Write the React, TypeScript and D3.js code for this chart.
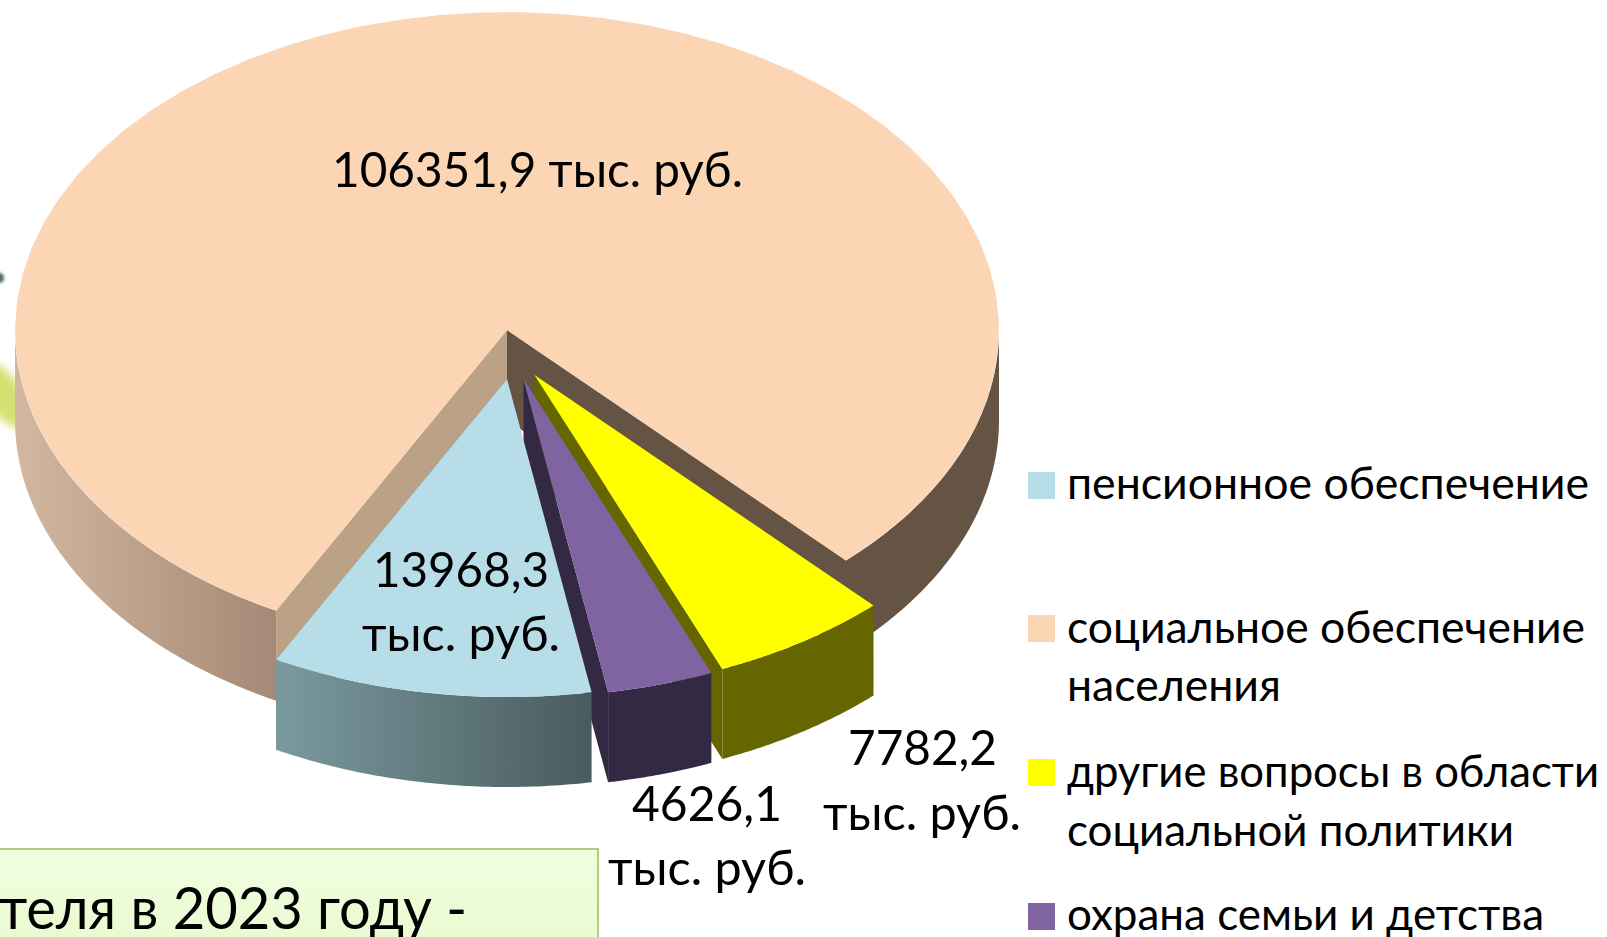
import React from "react";
import * as d3 from "d3";

const categories = ["пенсионное обеспечение", "социальное обеспечение населения", "другие вопросы в области социальной политики", "охрана семьи и детства"];
const values = [13968.3, 106351.9, 7782.2, 4626.1];
const topColors = ["#B7DEE8", "#FCD5B5", "#FFFF00", "#8064A2"];
const sideColors = ["#5F747A", "#BBA286", "#666600", "#342943"];
const offsetsX = [0, 0, 27.5, 16.5];
const offsetsY = [49, 0, 45, 49];
const FONT = "Lato, 'Open Sans', sans-serif";

const W = 1607, H = 937;
const cx = 507, cy = 330, rx = 492, ry = 318, depth = 90;
const START = (170.1 * Math.PI) / 180;

const arcs = d3.pie<number>().sort(null).startAngle(START).endAngle(START + 2 * Math.PI)(values);
const pt = (a: number, r = 1): [number, number] => [cx + rx * r * Math.sin(a), cy - ry * r * Math.cos(a)];
const line = d3.line();
const samples = (a0: number, a1: number) => d3.range(0, 61).map((i) => pt(a0 + ((a1 - a0) * i) / 60));
const topPath = (a0: number, a1: number) => line([[cx, cy], ...samples(a0, a1)])! + "Z";
const sidePath = (a0: number, a1: number) => {
  const s = samples(a0, a1);
  return line([...s, ...s.slice().reverse().map(([x, y]) => [x, y + depth] as [number, number])])! + "Z";
};
const cutPath = (a: number) => {
  const [x, y] = pt(a);
  return line([[cx, cy], [cx, cy + depth], [x, y + depth], [x, y]])! + "Z";
};

const legendRows = [
  { i: 0, swatchY: 472, lines: [["пенсионное обеспечение", 499, 522]] },
  { i: 1, swatchY: 615, lines: [["социальное обеспечение", 643, 518], ["населения", 701, 214]] },
  { i: 2, swatchY: 759, lines: [["другие вопросы в области", 787, 532], ["социальной политики", 846, 447]] },
  { i: 3, swatchY: 903, lines: [["охрана семьи и детства", 930, 477]] },
];
const labels: [string, number, number, number][] = [
  ["106351,9 тыс. руб.", 332, 187, 411],
  ["13968,3", 373, 587, 176],
  ["тыс. руб.", 362, 651, 198],
  ["7782,2", 848, 765, 149],
  ["тыс. руб.", 823, 830, 198],
  ["4626,1", 632, 821, 150],
  ["тыс. руб.", 608, 885, 198],
];

export default function App() {
  const rad = Math.PI / 180;
  const [pen, soc, oth, fam] = arcs;
  return (
    <svg width={W} height={H} viewBox={`0 0 ${W} ${H}`} style={{ position: "absolute", left: 0, top: 0, background: "#fff" }} fontFamily={FONT}>
      <defs>
        <linearGradient id="wallL" gradientUnits="userSpaceOnUse" x1={15} x2={277} y1={0} y2={0}>
          <stop offset="0" stopColor="#D2B7A1" />
          <stop offset="1" stopColor="#A48A76" />
        </linearGradient>
        <linearGradient id="wallB" gradientUnits="userSpaceOnUse" x1={276} x2={592} y1={0} y2={0}>
          <stop offset="0" stopColor="#7A9A9F" />
          <stop offset="1" stopColor="#495B5F" />
        </linearGradient>
        <linearGradient id="box" x1="0" x2="0" y1="0" y2="1">
          <stop offset="0" stopColor="#F0FDDF" />
          <stop offset="1" stopColor="#E8FBCF" />
        </linearGradient>
        <filter id="blur" x="-100%" y="-100%" width="300%" height="300%"><feGaussianBlur stdDeviation="4" /></filter>
        <filter id="blur2" x="-100%" y="-100%" width="300%" height="300%"><feGaussianBlur stdDeviation="1.5" /></filter>
      </defs>

      <ellipse cx={0} cy={278} rx={4} ry={5} fill="#4F6A55" filter="url(#blur2)" />
      <ellipse cx={4} cy={395} rx={17} ry={36} fill="#D4E070" filter="url(#blur)" transform="rotate(-30 4 395)" />

      <path d={sidePath(soc.startAngle, 270 * rad)} fill="url(#wallL)" />
      <path d={sidePath(90 * rad + 2 * Math.PI, soc.endAngle)} fill="#655444" />
      <path d={cutPath(soc.startAngle)} fill={sideColors[1]} />
      <path d={cutPath(soc.endAngle)} fill="#655444" />
      <path d={topPath(soc.startAngle, soc.endAngle)} fill={topColors[1]} />

      {[oth, fam, pen].map((a) => {
        const i = a.index;
        const fill = i === 0 ? "url(#wallB)" : sideColors[i];
        return (
          <g key={i} transform={`translate(${offsetsX[i]},${offsetsY[i]})`}>
            <path d={cutPath(a.endAngle)} fill={sideColors[i]} />
            <path d={sidePath(a.startAngle, a.endAngle)} fill={fill} />
            <path d={topPath(a.startAngle, a.endAngle)} fill={topColors[i]} />
          </g>
        );
      })}

      {labels.map(([t, x, y, w], k) => (
        <text key={k} x={x} y={y} fontSize={49} fill="#000" textLength={w} lengthAdjust="spacingAndGlyphs">{t}</text>
      ))}

      {legendRows.map((r) => (
        <g key={r.i}>
          <rect x={1028} y={r.swatchY} width={27} height={27} fill={topColors[r.i]} />
          {r.lines.map(([t, y, w]) => (
            <text key={t as string} x={1067} y={y as number} fontSize={44} fill="#000" textLength={w as number} lengthAdjust="spacingAndGlyphs">{t as string}</text>
          ))}
        </g>
      ))}

      <rect x={-10} y={849} width={608} height={110} fill="url(#box)" stroke="#9BBB59" strokeWidth={1.5} />
      <text x={-1} y={929} fontSize={59} fill="#000" textLength={468} lengthAdjust="spacingAndGlyphs">теля в 2023 году -</text>
    </svg>
  );
}
